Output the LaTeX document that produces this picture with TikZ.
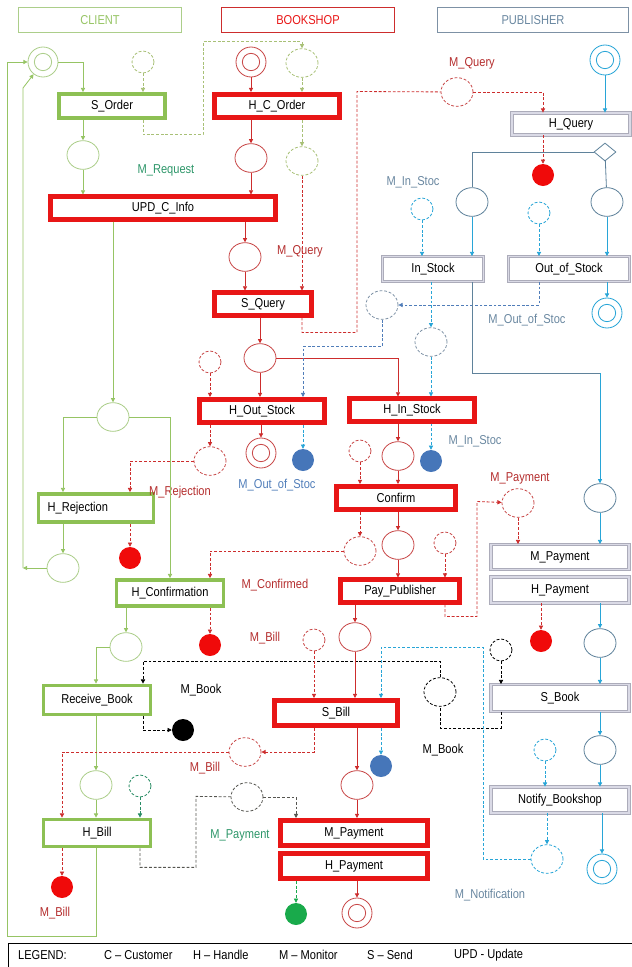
\documentclass[tikz,border=0pt]{standalone}
\usepackage{fontspec}
\setmainfont{Liberation Sans}[FakeStretch=0.86]
\usepackage{xcolor}
\usetikzlibrary{arrows.meta,shapes.geometric,shadows}

\definecolor{cgreen}{RGB}{141,192,84}
\definecolor{cline}{RGB}{150,196,100}
\definecolor{cplc}{RGB}{172,206,138}
\definecolor{colv}{RGB}{168,192,118}
\definecolor{cteal}{RGB}{40,140,100}
\definecolor{bred}{RGB}{232,22,22}
\definecolor{bline}{RGB}{205,45,45}
\definecolor{bplc}{RGB}{200,72,72}
\definecolor{pline}{RGB}{40,165,215}
\definecolor{pplc}{RGB}{95,130,155}
\definecolor{pgrey}{RGB}{125,145,165}
\definecolor{psteel}{RGB}{80,125,185}
\definecolor{pframe}{RGB}{172,172,186}
\definecolor{plight}{RGB}{218,218,230}
\definecolor{mteal}{RGB}{45,150,105}
\definecolor{mred}{RGB}{180,45,45}
\definecolor{mblue}{RGB}{105,135,160}
\definecolor{tred}{RGB}{240,10,10}
\definecolor{tblue}{RGB}{70,118,185}
\definecolor{tgreen}{RGB}{25,170,75}
\definecolor{dgray}{RGB}{85,85,80}

\begin{document}
\begin{tikzpicture}[x=0.03cm, y=-0.03cm,
		every node/.style={font=\fontsize{11}{13}\selectfont},
		>={Triangle[length=3.6pt,width=3.6pt]},
		hdr/.style 2 args={draw=#1, text=#2, line width=0.6pt, minimum height=0.73cm},
		cbox/.style={draw=cgreen, line width=3.2pt, fill=white, inner sep=1pt},
		bbox/.style={draw=bred, line width=4pt, fill=white, inner sep=1pt},
		pbox/.style={draw=pframe, line width=0.7pt, double=plight, double distance=1.6pt, fill=white,
				drop shadow={opacity=0.25, shadow xshift=0.6pt, shadow yshift=-1pt}},
		place/.style={ellipse, draw=#1, line width=0.7pt, fill=white,
				minimum width=0.96cm, minimum height=0.86cm, inner sep=0pt},
		mplace/.style={place=#1, dash pattern=on 2.4pt off 1.6pt},
		splace/.style={circle, draw=#1, line width=0.7pt, fill=white,
				dash pattern=on 2.4pt off 1.6pt, minimum size=0.66cm, inner sep=0pt},
		token/.style={circle, fill=#1, minimum size=0.66cm, inner sep=0pt},
		endplace/.style={circle, draw=#1, line width=0.7pt, fill=white, minimum size=0.9cm, inner sep=0pt,
				path picture={\draw[#1, line width=0.7pt] (path picture bounding box.center) circle (0.26cm);}},
		flow/.style={draw=#1, line width=0.7pt, ->},
		dflow/.style={flow=#1, dash pattern=on 2.4pt off 1.6pt},
		dline/.style={draw=#1, line width=0.7pt, dash pattern=on 2.4pt off 1.6pt},
		lab/.style={text=#1, inner sep=0pt}
	]
	\useasboundingbox (0,0) rectangle (631,967);

	% intestazioni delle tre corsie
	\node[hdr={cplc}{cline}, minimum width=4.9cm] (hclient) at (100,20) {CLIENT};
	\node[hdr={bline}{bred}, minimum width=5.17cm] (hbook) at (308,20) {BOOKSHOP};
	\node[hdr={pgrey}{mblue}, minimum width=5.74cm] (hpub) at (533,20) {PUBLISHER};

	% client
	\node[endplace=cplc] (cstart) at (43,62) {};
	\node[splace=colv] (cmon) at (143,62) {};
	\node[cbox, minimum width=3.18cm, minimum height=0.72cm] (sorder) at (112,106) {S\_Order};
	\node[place=cplc] (cp1) at (83,155) {};
	\node[place=cplc] (cp2) at (113,417) {};
	\node[cbox, minimum width=3.45cm, minimum height=0.84cm, text width=2.9cm, align=left] (hrej) at (96,508) {H\_Rejection};
	\node[place=cplc] (cp3) at (63,568) {};
	\node[token=tred] (ctok1) at (130,558) {};
	\node[cbox, minimum width=3.21cm, minimum height=0.78cm] (hconf) at (170,593) {H\_Confirmation};
	\node[token=tred] (ctok2) at (210,645) {};
	\node[place=cplc] (cp4) at (126,647) {};
	\node[cbox, minimum width=3.21cm, minimum height=0.87cm] (rbook) at (97,700) {Receive\_Book};
	\node[token=black] (ctok3) at (183,730) {};
	\node[place=cplc] (cp5) at (96,785) {};
	\node[splace=cteal] (cmon2) at (140,786) {};
	\node[cbox, minimum width=3.21cm, minimum height=0.81cm] (hbill) at (97,833) {H\_Bill};
	\node[token=tred] (ctok4) at (62,887) {};
	\coordinate (cloop) at (23,568);

	% bookshop
	\node[endplace=bplc] (bstart) at (251,62) {};
	\node[mplace=colv] (bmreq) at (302,63) {};
	\node[bbox, minimum width=3.76cm, minimum height=0.70cm] (hcorder) at (277,106) {H\_C\_Order};
	\node[place=bplc] (bp1) at (251,158) {};
	\node[mplace=colv] (bmreq2) at (302,161) {};
	\node[bbox, minimum width=6.76cm, minimum height=0.67cm] (updinfo) at (163,208) {UPD\_C\_Info};
	\node[place=bplc] (bp2) at (245,257) {};
	\node[bbox, minimum width=2.89cm, minimum height=0.67cm] (squery) at (263,304) {S\_Query};
	\node[place=bplc] (bp3) at (260,358) {};
	\node[splace=bplc] (bmon1) at (210,362) {};
	\node[bbox, minimum width=3.73cm, minimum height=0.70cm] (houtst) at (262,411) {H\_Out\_Stock};
	\node[bbox, minimum width=3.73cm, minimum height=0.67cm] (hinst) at (412,410) {H\_In\_Stock};
	\node[mplace=bplc] (bmrej) at (210,461) {};
	\node[endplace=bplc] (bend1) at (261,453) {};
	\node[token=tblue] (btok1) at (303,460) {};
	\node[mplace=pgrey] (bmoos) at (382,305) {};
	\node[mplace=pgrey] (bmins) at (431,342) {};
	\node[place=bplc] (bp4) at (398,456) {};
	\node[token=tblue] (btok2) at (431,461) {};
	\node[splace=bplc] (bmon2) at (360,451) {};
	\node[bbox, minimum width=3.55cm, minimum height=0.70cm] (confirm) at (396,498) {Confirm};
	\node[mplace=bplc] (bmconf) at (360,551) {};
	\node[place=bplc] (bp5) at (398,545) {};
	\node[splace=bplc] (bmon3) at (445,543) {};
	\node[bbox, minimum width=3.58cm, minimum height=0.67cm] (paypub) at (400,591) {Pay\_Publisher};
	\node[mplace=bplc] (bmpay) at (518,503) {};
	\node[place=bplc] (bp6) at (355,637) {};
	\node[splace=bplc] (bmon4) at (314,640) {};
	\node[mplace=black] (bmbook) at (440,692) {};
	\node[bbox, minimum width=3.70cm, minimum height=0.76cm] (sbill) at (336,713) {S\_Bill};
	\node[mplace=bplc] (bmbill) at (245,752) {};
	\node[token=tblue] (btok3) at (381,766) {};
	\node[place=bplc] (bp7) at (357,785) {};
	\node[mplace=dgray] (bmpay2) at (247,797) {};
	\node[bbox, minimum width=4.39cm, minimum height=0.76cm] (mpay) at (354,833) {M\_Payment};
	\node[bbox, minimum width=4.39cm, minimum height=0.76cm] (hpay) at (354,866) {H\_Payment};
	\node[token=tgreen] (btok4) at (296,914) {};
	\node[endplace=bplc] (bend2) at (357,913) {};

	% publisher
	\node[endplace=pline] (pstart) at (605,60) {};
	\node[mplace=bplc] (pmq) at (457,92) {};
	\node[pbox, minimum width=3.54cm, minimum height=0.66cm] (hquery) at (571,124) {H\_Query};
	\node[token=tred] (ptok1) at (543,175) {};
	\node[diamond, draw=pplc, fill=white, line width=0.7pt, minimum width=0.66cm, minimum height=0.54cm, inner sep=0pt] (pdec) at (605,152) {};
	\node[place=pplc] (pp1) at (472,202) {};
	\node[place=pplc] (pp2) at (607,202) {};
	\node[splace=pline] (pmon1) at (422,209) {};
	\node[splace=pline] (pmon2) at (539,213) {};
	\node[pbox, minimum width=3.03cm, minimum height=0.75cm] (instock) at (433,269) {In\_Stock};
	\node[pbox, minimum width=3.63cm, minimum height=0.75cm] (outstock) at (569,269) {Out\_of\_Stock};
	\node[endplace=pline] (pend1) at (607,313) {};
	\coordinate (pturn) at (600,373);
	\node[place=pplc] (pp3) at (600,498) {};
	\node[pbox, minimum width=4.14cm, minimum height=0.75cm] (pmpay) at (560,557) {M\_Payment};
	\node[pbox, minimum width=4.14cm, minimum height=0.78cm] (phpay) at (560,590) {H\_Payment};
	\node[token=tred] (ptok2) at (541,641) {};
	\node[place=pplc] (pp4) at (600,643) {};
	\node[splace=black] (pmon3) at (501,650) {};
	\node[pbox, minimum width=4.14cm, minimum height=0.81cm] (sbook) at (560,698) {S\_Book};
	\node[place=pplc] (pp5) at (600,750) {};
	\node[splace=pline] (pmon4) at (545,750) {};
	\node[pbox, minimum width=4.14cm, minimum height=0.78cm] (notify) at (560,800) {Notify\_Bookshop};
	\node[mplace=pline] (pmnot) at (547,859) {};
	\node[endplace=pline] (pend2) at (602,869) {};
	\coordinate (ncorner) at (483,647);

	% etichette dei messaggi
	\node[lab=mteal] (lreq) at (166,170) {M\_Request};
	\node[lab=mred] (lquery1) at (472,63) {M\_Query};
	\node[lab=mred] (lquery2) at (300,251) {M\_Query};
	\node[lab=mblue] (linst1) at (413,182) {M\_In\_Stoc};
	\node[lab=mblue] (loos1) at (527,320) {M\_Out\_of\_Stoc};
	\node[lab=psteel] (loos2) at (277,485) {M\_Out\_of\_Stoc};
	\node[lab=mblue] (linst2) at (475,441) {M\_In\_Stoc};
	\node[lab=mred] (lrej) at (180,492) {M\_Rejection};
	\node[lab=mred] (lpay1) at (520,478) {M\_Payment};
	\node[lab=mred] (lconf) at (275,585) {M\_Confirmed};
	\node[lab=mred] (lbill1) at (265,638) {M\_Bill};
	\node[lab=black] (lbook1) at (201,690) {M\_Book};
	\node[lab=black] (lbook2) at (443,750) {M\_Book};
	\node[lab=mred] (lbill2) at (205,768) {M\_Bill};
	\node[lab=mteal] (lpay2) at (240,835) {M\_Payment};
	\node[lab=mred] (lbill3) at (55,913) {M\_Bill};
	\node[lab=mblue] (lnot) at (490,895) {M\_Notification};

	% archi client
	\draw[flow=cline] (cstart) -| (sorder.north -| cp1);
	\draw[dflow=colv] (cmon) -- (cmon |- sorder.north);
	\draw[dflow=colv] (sorder.south -| cmon) -- ++(0,15) -| ++(60,-93) -| (bmreq);
	\draw[flow=cline] (sorder.south -| cp1) -- (cp1);
	\draw[flow=cline] (cp1) -- (cp1 |- updinfo.north);
	\draw[flow=cline] (updinfo.south -| cp2) -- (cp2);
	\draw[flow=cline] (cp2) -| (hrej.north -| cp3);
	\draw[flow=cline] (cp2) -| (hconf.north);
	\draw[flow=cline] (hrej.south -| cp3) -- (cp3);
	\draw[flow=cline] (cp3) -- (cloop);
	\draw[flow=cline] (cloop) -- (23,88) -- (cstart);
	\draw[dflow=bline] (bmrej) -| (hrej.north -| ctok1);
	\draw[dflow=bline] (hrej.south -| ctok1) -- (ctok1);
	\draw[dflow=bline] (bmconf) -| (hconf.north -| ctok2);
	\draw[dflow=bline] (hconf.south -| ctok2) -- (ctok2);
	\draw[flow=cline] (hconf.south -| cp4) -- (cp4);
	\draw[flow=cline] (cp4) -| (rbook.north -| cp5);
	\draw[flow=cline] (rbook.south -| cp5) -- (cp5);
	\draw[dflow=black] (rbook.south -| cmon) |- (ctok3);
	\draw[dflow=black] (bmbook.north) -- ++(0,-16) -| (rbook.north -| cmon);
	\draw[dline=black] (sbook.south -| pmon3) -- ++(0,16) -| (bmbook);
	\draw[flow=cline] (cp5) -- (cp5 |- hbill.north);
	\draw[dflow=cteal] (cmon2) -- (cmon2 |- hbill.north);
	\draw[dflow=bline] (bmbill) -| (hbill.north -| ctok4);
	\draw[dflow=bline] (sbill.south -| bmon4) |- (bmbill);
	\draw[dflow=bline] (hbill.south -| ctok4) -- (ctok4);
	\draw[flow=cline] (hbill.south -| cp5) |- (7,936) |- (cstart);
	\draw[dline=dgray] (hbill.south -| cmon2) -- ++(0,19) -| ++(56,-71) -- (bmpay2);
	\draw[dflow=dgray] (bmpay2) -| (mpay.north -| btok4);

	% archi bookshop
	\draw[flow=bline] (bstart) -- (bstart |- hcorder.north);
	\draw[dflow=colv] (bmreq) -- (bmreq |- hcorder.north);
	\draw[flow=bline] (hcorder.south -| bp1) -- (bp1);
	\draw[dflow=colv] (hcorder.south -| bmreq2) -- (bmreq2);
	\draw[dflow=bline] (bmreq2) -- (bmreq2 |- squery.north);
	\draw[flow=bline] (bp1) -- (bp1 |- updinfo.north);
	\draw[flow=bline] (updinfo.south -| bp2) -- (bp2);
	\draw[flow=bline] (bp2) -- (bp2 |- squery.north);
	\draw[dline=bline] (squery.south -| bmreq2) -- ++(0,15) -| ++(55,-241) -- (pmq);
	\draw[dflow=bline] (pmq) -| (hquery.north -| ptok1);
	\draw[flow=bline] (squery.south -| bp3) -- (bp3);
	\draw[flow=bline] (bp3) -- (bp3 |- houtst.north);
	\draw[flow=bline] (bp3) -| (hinst.north -| bp4);
	\draw[dflow=bline] (bmon1) -- (bmon1 |- houtst.north);
	\draw[dflow=bline] (houtst.south -| bmrej) -- (bmrej);
	\draw[flow=bline] (houtst.south -| bend1) -- (bend1);
	\draw[dflow=pline] (houtst.south -| btok1) -- (btok1);
	\draw[dflow=psteel] (bmoos.south) -- ++(0,27) -| (houtst.north -| btok1);
	\draw[dflow=psteel] (outstock.south -| pmon2) |- (bmoos);
	\draw[dflow=pline] (instock.south -| bmins) -- (bmins);
	\draw[dflow=pline] (bmins) -- (bmins |- hinst.north);
	\draw[flow=bline] (hinst.south -| bp4) -- (bp4);
	\draw[dflow=pline] (hinst.south -| btok2) -- (btok2);
	\draw[dflow=bline] (bmon2) -- (bmon2 |- confirm.north);
	\draw[flow=bline] (bp4) -- (bp4 |- confirm.north);
	\draw[dflow=bline] (confirm.south -| bmconf) -- (bmconf);
	\draw[flow=bline] (confirm.south -| bp5) -- (bp5);
	\draw[flow=bline] (bp5) -- (bp5 |- paypub.north);
	\draw[dflow=bline] (bmon3) -- (bmon3 |- paypub.north);
	\draw[dflow=bline] (paypub.south -| bmon3) -- ++(0,12) -| ++(32,-115) -- (bmpay);
	\draw[dflow=bline] (bmpay) -- (bmpay |- pmpay.north);
	\draw[flow=bline] (paypub.south -| bp6) -- (bp6);
	\draw[flow=bline] (bp6) -- (bp6 |- sbill.north);
	\draw[dflow=bline] (bmon4) -- (bmon4 |- sbill.north);
	\draw[dflow=pline] (pmnot) -| (ncorner) -| (sbill.north -| btok3);
	\draw[dflow=pline] (sbill.south -| btok3) -- (btok3);
	\draw[flow=bline] (sbill.south -| bp7) -- (bp7);
	\draw[flow=bline] (bp7) -- (bp7 |- mpay.north);
	\draw[dflow=tgreen] (hpay.south -| btok4) -- (btok4);
	\draw[flow=bline] (hpay.south -| bend2) -- (bend2);

	% archi publisher
	\draw[flow=pline] (pstart) -- (pstart |- hquery.north);
	\draw[dflow=bline] (hquery.south -| ptok1) -- (ptok1);
	\draw[draw=pplc, line width=0.7pt] (pdec) -| (pp1);
	\draw[draw=pplc, line width=0.7pt] (pdec) -- (pp2);
	\draw[flow=pline] (pp1) -- (pp1 |- instock.north);
	\draw[flow=pline] (pp2) -- (pp2 |- outstock.north);
	\draw[dflow=pline] (pmon1) -- (pmon1 |- instock.north);
	\draw[dflow=pline] (pmon2) -- (pmon2 |- outstock.north);
	\draw[flow=pline] (outstock.south -| pend1) -- (pend1);
	\draw[draw=pplc, line width=0.7pt] (instock.south -| pp1) |- (pturn);
	\draw[flow=pline] (pturn) -- (pp3);
	\draw[flow=pline] (pp3) -- (pp3 |- pmpay.north);
	\draw[dflow=bline] (phpay.south -| ptok2) -- (ptok2);
	\draw[flow=pline] (phpay.south -| pp4) -- (pp4);
	\draw[flow=pline] (pp4) -- (pp4 |- sbook.north);
	\draw[dflow=black] (pmon3) -- (pmon3 |- sbook.north);
	\draw[flow=pline] (sbook.south -| pp5) -- (pp5);
	\draw[flow=pline] (pp5) -- (pp5 |- notify.north);
	\draw[dflow=pline] (pmon4) -- (pmon4 |- notify.north);
	\draw[dflow=pline] (notify.south -| pmnot) -- (pmnot);
	\draw[flow=pline] (notify.south -| pend2) -- (pend2);

	% legenda
	\draw[line width=0.6pt] (8,990) -- (8,943) -- (650,943);
	\node[anchor=west] (lg0) at (14,955) {LEGEND:};
	\node[anchor=west] (lg1) at (100,955) {C – Customer};
	\node[anchor=west] (lg2) at (189,955) {H – Handle};
	\node[anchor=west] (lg3) at (275,955) {M – Monitor};
	\node[anchor=west] (lg4) at (363,955) {S – Send};
	\node[anchor=west] (lg5) at (450,955) {UPD - Update};
\end{tikzpicture}
\end{document}
